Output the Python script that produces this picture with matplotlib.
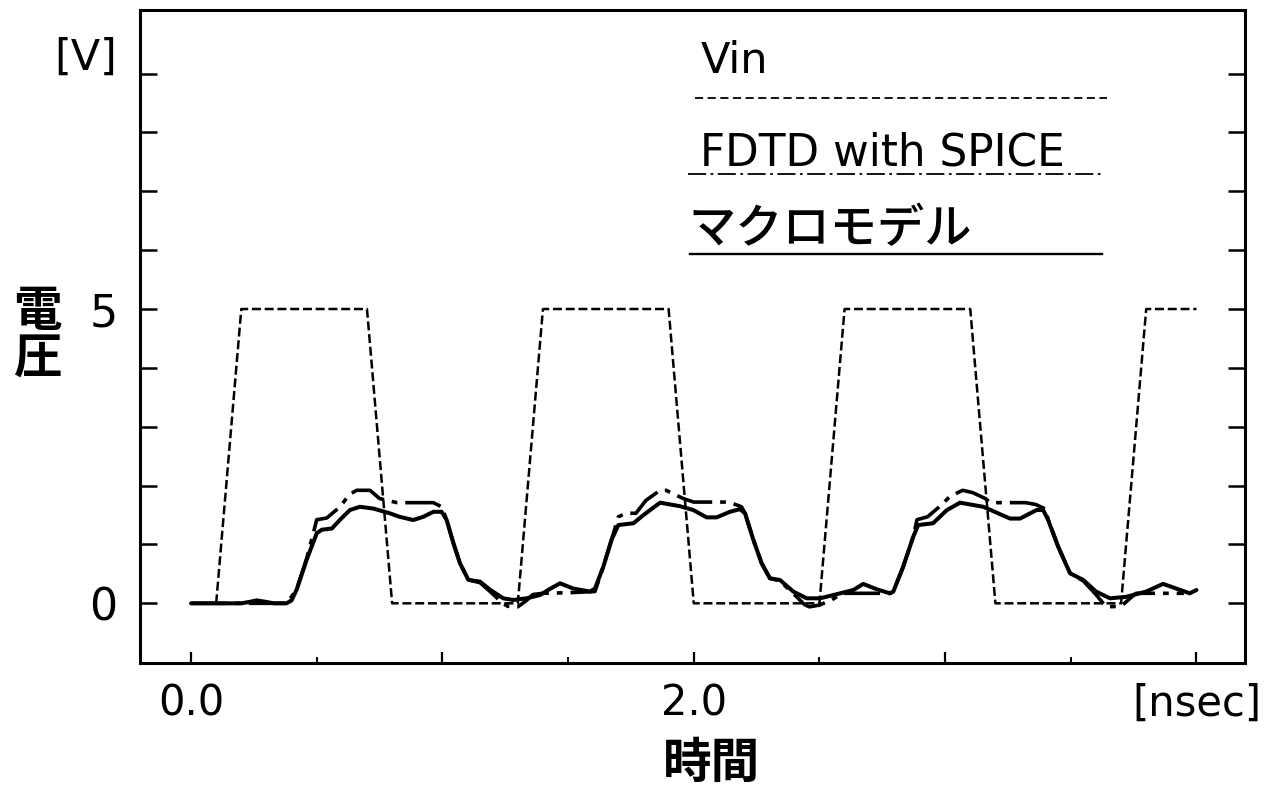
import matplotlib
matplotlib.use("Agg")
import matplotlib.pyplot as plt
from matplotlib.lines import Line2D

plt.rcParams['font.family'] = ['DejaVu Sans', 'Noto Sans CJK JP']

# ---------------- data ----------------
vin_t = [0.1, 0.2, 0.7, 0.8, 1.3, 1.4, 1.9, 2.0, 2.5, 2.6, 3.1, 3.2, 3.7, 3.8, 4.0]
vin_v = [0.0, 5.0, 5.0, 0.0, 0.0, 5.0, 5.0, 0.0, 0.0, 5.0, 5.0, 0.0, 0.0, 5.0, 5.0]

fdtd_t = [0.0, 0.38, 0.42, 0.46, 0.49, 0.50, 0.54, 0.593, 0.63, 0.659, 0.712, 0.75, 0.82, 0.964, 0.997,
          1.017, 1.044, 1.07, 1.103, 1.15, 1.19, 1.24, 1.26, 1.30, 1.335, 1.36, 1.40, 1.50, 1.607,
          1.64, 1.673, 1.70, 1.73, 1.77, 1.81, 1.866, 1.89, 1.958, 2.0, 2.14, 2.19,
          2.204, 2.237, 2.27, 2.303, 2.343, 2.40, 2.44, 2.46, 2.50, 2.55, 2.59, 2.78, 2.794,
          2.833, 2.873, 2.888, 2.93, 2.98, 3.02, 3.07, 3.11, 3.16, 3.18, 3.32, 3.36, 3.40,
          3.41, 3.45, 3.497, 3.55, 3.60, 3.64, 3.70, 3.74, 3.76, 3.95]
fdtd_v = [0.0, 0.0, 0.23, 0.76, 1.25, 1.42, 1.45, 1.64, 1.85, 1.92, 1.92, 1.78, 1.71, 1.71, 1.64,
          1.42, 1.02, 0.68, 0.40, 0.35, 0.20, 0.0, -0.05, -0.06, 0.05, 0.15, 0.17, 0.18, 0.20,
          0.62, 1.08, 1.47, 1.53, 1.53, 1.75, 1.92, 1.92, 1.78, 1.72, 1.72, 1.64,
          1.53, 1.08, 0.68, 0.425, 0.38, 0.15, -0.02, -0.06, -0.03, 0.06, 0.17, 0.17, 0.20,
          0.62, 1.13, 1.42, 1.47, 1.65, 1.82, 1.92, 1.88, 1.78, 1.71, 1.71, 1.68, 1.60,
          1.42, 0.96, 0.51, 0.38, 0.15, -0.06, -0.05, 0.10, 0.17, 0.17]

macro_t = [0.0, 0.2, 0.24, 0.26, 0.29, 0.33, 0.38, 0.40, 0.42, 0.46, 0.50, 0.52, 0.56, 0.593, 0.632,
           0.672, 0.725, 0.79, 0.83, 0.884, 0.924, 0.964, 0.997, 1.017, 1.044, 1.07, 1.103, 1.13,
           1.149, 1.19, 1.242, 1.282, 1.335, 1.388, 1.43, 1.468, 1.521, 1.587, 1.607,
           1.64, 1.673, 1.70, 1.76, 1.80, 1.866, 1.945, 1.998, 2.051, 2.091, 2.144, 2.184, 2.204,
           2.237, 2.27, 2.303, 2.343, 2.396, 2.449, 2.502, 2.555, 2.635, 2.674, 2.727, 2.78, 2.794,
           2.833, 2.873, 2.893, 2.952, 3.006, 3.059, 3.152, 3.258, 3.298, 3.364, 3.39, 3.41,
           3.45, 3.497, 3.55, 3.60, 3.656, 3.72, 3.80, 3.867, 3.92, 3.973, 4.0]
macro_v = [0.0, 0.0, 0.03, 0.05, 0.03, 0.0, 0.0, 0.05, 0.23, 0.74, 1.19, 1.25, 1.27, 1.42, 1.585,
           1.64, 1.61, 1.53, 1.47, 1.415, 1.47, 1.555, 1.555, 1.415, 1.02, 0.68, 0.40, 0.38,
           0.37, 0.23, 0.085, 0.057, 0.085, 0.14, 0.25, 0.34, 0.25, 0.20, 0.25,
           0.62, 1.08, 1.33, 1.36, 1.50, 1.71, 1.65, 1.585, 1.46, 1.46, 1.555, 1.60, 1.53,
           1.08, 0.68, 0.425, 0.396, 0.20, 0.085, 0.085, 0.14, 0.226, 0.33, 0.24, 0.17, 0.20,
           0.62, 1.13, 1.33, 1.36, 1.58, 1.71, 1.64, 1.44, 1.44, 1.585, 1.585, 1.415,
           0.96, 0.51, 0.396, 0.20, 0.085, 0.11, 0.20, 0.33, 0.25, 0.17, 0.226]

x_ticks = [0, 1, 2, 3, 4]
x_ticklabels = ['0.0', '', '2.0', '', '[nsec]']
x_minor = [0.5, 1.5, 2.5, 3.5]
y_ticks = [0, 1, 2, 3, 4, 5, 6, 7, 8, 9]
y_ticklabels = ['0', '', '', '', '', '5', '', '', '', '']
legend_labels = ['Vin', 'FDTD with SPICE', 'マクロモデル']

# ---------------- figure ----------------
W, H = 1272, 790
fig = plt.figure(figsize=(W / 100, H / 100), dpi=100)
ax = fig.add_axes([140 / W, (H - 663) / H, 1105 / W, 653 / H])

def fx(px):
    return px / W

def fy(py):
    return 1 - py / H

ax.plot(vin_t, vin_v, color='black', lw=1.8, linestyle=(0, (3.6, 1.5)))
ax.plot(fdtd_t, fdtd_v, color='black', lw=2.6, linestyle=(0, (10, 2.2, 1.6, 2.2)))
ax.plot(macro_t, macro_v, color='black', lw=2.9, solid_capstyle='round',
        solid_joinstyle='round')

ax.set_xlim(-0.203, 4.193)
ax.set_ylim(-1.014, 10.08)

for s in ax.spines.values():
    s.set_linewidth(2.2)

ax.set_xticks(x_ticks)
ax.set_xticklabels(x_ticklabels)
ax.set_xticks(x_minor, minor=True)
ax.set_yticks(y_ticks)
ax.set_yticklabels(y_ticklabels)
ax.tick_params(axis='x', which='major', direction='in', length=8, width=1.6,
               top=False, labelsize=30, pad=14)
ax.tick_params(axis='x', which='minor', direction='in', length=4, width=1.4, top=False)
ax.tick_params(axis='y', which='major', direction='in', length=12, width=1.8,
               left=True, right=True, labelsize=32, pad=16)

# axis labels / units
fig.text(fx(86), fy(57.5), '[V]', fontsize=31, ha='center', va='center')
fig.text(fx(37), fy(311), '電', fontsize=35, ha='center', va='center',
         family=['Noto Sans CJK JP'], fontweight='bold')
fig.text(fx(37), fy(359), '圧', fontsize=35, ha='center', va='center',
         family=['Noto Sans CJK JP'], fontweight='bold')
fig.text(fx(712), fy(763), '時間', fontsize=35, ha='center', va='center',
         family=['Noto Sans CJK JP'], fontweight='bold')

# legend (text above each sample line)
fig.text(fx(701), fy(73), legend_labels[0], fontsize=31, ha='left', va='baseline')
fig.text(fx(700), fy(165), legend_labels[1], fontsize=31.5, ha='left', va='baseline')
fig.text(fx(688), fy(243), legend_labels[2], fontsize=34, ha='left', va='baseline',
         family=['Noto Sans CJK JP'], fontweight='medium')

fig.add_artist(Line2D([fx(695), fx(1107)], [fy(98), fy(98)], color='black', lw=1.3,
                      linestyle=(0, (4.5, 2.5)), transform=fig.transFigure))
fig.add_artist(Line2D([fx(688), fx(1102)], [fy(174), fy(174)], color='black', lw=1.3,
                      linestyle=(0, (10, 2.5, 1.5, 2.5)), transform=fig.transFigure))
fig.add_artist(Line2D([fx(690), fx(1102)], [fy(254), fy(254)], color='black', lw=1.7,
                      transform=fig.transFigure))

fig.savefig('out.png', dpi=100)
